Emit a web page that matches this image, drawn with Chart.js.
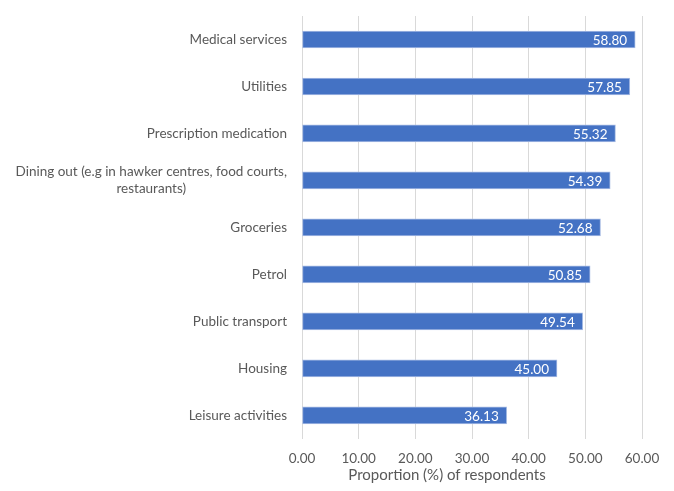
<!DOCTYPE html>
<html>
<head>
<meta charset="utf-8">
<script src="https://cdn.jsdelivr.net/npm/chart.js@4/dist/chart.umd.min.js"></script>
<style>
  html, body { margin: 0; padding: 0; background: #fff; }
  #wrap { width: 674px; height: 491px; }
</style>
</head>
<body>
<div id="wrap"><canvas id="bars"></canvas></div>
<script>
const categories = [
    'Medical services',
    'Utilities',
    'Prescription medication',
    ['Dining out (e.g in hawker centres, food courts,', 'restaurants)'],
    'Groceries',
    'Petrol',
    'Public transport',
    'Housing',
    'Leisure activities'
];
const proportions = [58.80, 57.85, 55.32, 54.39, 52.68, 50.85, 49.54, 45.00, 36.13];
const xTicks = [0, 10, 20, 30, 40, 50, 60];
const axisTitle = 'Proportion (%) of respondents';

const fontFamily = 'Lato, "Open Sans", sans-serif';
const textColor = '#595959';

// category labels (lines centred on each other), value labels inside the bar ends,
// and the axis title (centred like Excel does it)
const excelLook = {
    id: 'excelLook',
    afterDatasetsDraw(chart) {
        const ctx = chart.ctx;
        const ys = chart.scales.y;
        ctx.save();
        ctx.font = '13.5px ' + fontFamily;
        ctx.fillStyle = textColor;
        ctx.textBaseline = 'middle';
        ctx.textAlign = 'center';
        const right = chart.chartArea.left - 15;
        categories.forEach((lab, i) => {
            const lines = Array.isArray(lab) ? lab : [lab];
            const w = Math.max(...lines.map(l => ctx.measureText(l).width));
            const cy = ys.getPixelForValue(i);
            const lh = 17;
            const y0 = cy - (lines.length - 1) * lh / 2;
            lines.forEach((l, k) => ctx.fillText(l, right - w / 2, y0 + k * lh));
        });

        ctx.font = '15px ' + fontFamily;
        ctx.fillText(axisTitle, 447, 475);

        ctx.fillStyle = '#ffffff';
        ctx.font = '13.5px ' + fontFamily;
        ctx.textAlign = 'right';
        chart.getDatasetMeta(0).data.forEach((bar, i) => {
            ctx.fillText(proportions[i].toFixed(2), bar.x - 8, bar.y + 1);
        });
        ctx.restore();
    }
};

new Chart(document.getElementById('bars'), {
    type: 'bar',
    data: {
        labels: categories,
        datasets: [{
            data: proportions,
            backgroundColor: '#4472c4',
            borderColor: '#a9bde4',
            borderWidth: 1,
            borderSkipped: false,
            barThickness: 17
        }]
    },
    options: {
        indexAxis: 'y',
        responsive: true,
        maintainAspectRatio: false,
        animation: false,
        layout: { padding: { top: 16, right: 32, bottom: 12, left: 10 } },
        plugins: {
            legend: { display: false },
            tooltip: { enabled: false }
        },
        scales: {
            x: {
                min: 0,
                max: 60,
                afterBuildTicks(scale) { scale.ticks = xTicks.map(v => ({ value: v })); },
                grid: { color: '#d9d9d9', drawTicks: false },
                border: { display: false },
                ticks: {
                    color: textColor,
                    font: { family: fontFamily, size: 13.5 },
                    padding: 12,
                    maxRotation: 0,
                    callback: v => Number(v).toFixed(2)
                }
            },
            y: {
                grid: { display: false },
                border: { display: false },
                ticks: { display: false },
                afterFit(scale) { scale.width = 292; }
            }
        }
    },
    plugins: [excelLook]
});
</script>
</body>
</html>
